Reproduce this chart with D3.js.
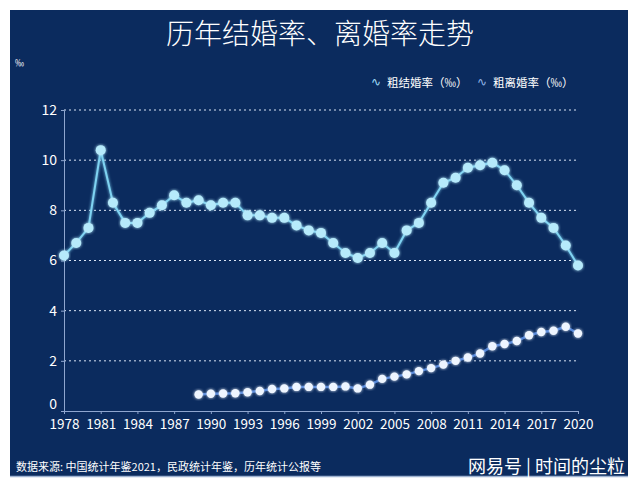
<!DOCTYPE html>
<html>
<head>
    <script src='https://cdn.jsdelivr.net/npm/d3@7'></script>
    <style type='text/css'>
        html, body { margin: 0; padding: 0; background: #ffffff; }
        text { font-family: 'Noto Sans CJK SC', 'Noto Sans', sans-serif; }
    </style>
</head>
<body>
<script>
    // data
    const years = d3.range(1978, 2021);
    const marriage = [6.2, 6.7, 7.3, 10.4, 8.3, 7.5, 7.5, 7.9, 8.2, 8.6,
        8.3, 8.4, 8.2, 8.3, 8.3, 7.8, 7.8, 7.7, 7.7, 7.4,
        7.2, 7.1, 6.7, 6.3, 6.1, 6.3, 6.7, 6.3, 7.2, 7.5,
        8.3, 9.1, 9.3, 9.7, 9.8, 9.9, 9.6, 9.0, 8.3, 7.7,
        7.3, 6.6, 5.8];
    const divorceYears = d3.range(1989, 2021);
    const divorce = [0.66, 0.69, 0.7, 0.71, 0.75, 0.8, 0.88, 0.9, 0.96, 0.96,
        0.96, 0.96, 0.98, 0.9, 1.05, 1.28, 1.37, 1.46, 1.59, 1.71,
        1.85, 2.0, 2.13, 2.29, 2.58, 2.67, 2.79, 3.02, 3.15, 3.2,
        3.36, 3.09];
    const xTicks = d3.range(1978, 2021, 3);
    const yTicks = [0, 2, 4, 6, 8, 10, 12];
    const seriesNames = ['粗结婚率（‰）', '粗离婚率（‰）'];

    const W = 640, H = 488;
    const svg = d3.select('body').append('svg').attr('width', W).attr('height', H);

    // navy panel
    svg.append('rect').attr('x', 10).attr('y', 10).attr('width', 618).attr('height', 467)
        .attr('fill', '#0b2b5e');
    svg.append('line').attr('x1', 10).attr('x2', 628).attr('y1', 476.5).attr('y2', 476.5)
        .attr('stroke', '#9fb3d1').attr('stroke-width', 1.5);

    const x = d3.scaleLinear().domain([1978, 2020]).range([64, 578]);
    const y = d3.scaleLinear().domain([0, 12]).range([411, 110]);

    // title
    svg.append('text').attr('x', 320).attr('y', 44).attr('text-anchor', 'middle')
        .attr('fill', '#ffffff').attr('font-size', 28).attr('font-weight', 300)
        .text('历年结婚率、离婚率走势');
    svg.append('text').attr('x', 15).attr('y', 66).attr('fill', '#ffffff')
        .attr('font-size', 9).text('‰');

    // grid
    svg.append('g').selectAll('line').data(yTicks.filter(d => d > 0)).join('line')
        .attr('x1', x(1978)).attr('x2', x(2020))
        .attr('y1', d => y(d)).attr('y2', d => y(d))
        .attr('stroke', '#dbe6f5').attr('stroke-width', 1)
        .attr('stroke-dasharray', '2,3');

    // y axis
    const yAxis = svg.append('g').attr('transform', `translate(${x(1978)},0)`)
        .call(d3.axisLeft(y).tickValues(yTicks).tickSize(3).tickPadding(4));
    yAxis.select('.domain').attr('stroke', '#8fa6cf');
    yAxis.selectAll('.tick line').attr('stroke', '#8fa6cf');
    yAxis.selectAll('text').attr('fill', '#ffffff').attr('font-size', 14)
        .attr('font-family', 'DejaVu Sans, sans-serif')
        .attr('dy', d => d === 0 ? '-0.2em' : '0.32em');

    // x axis
    const xAxis = svg.append('g').attr('transform', `translate(0,${y(0)})`)
        .call(d3.axisBottom(x).tickValues(xTicks).tickFormat(d3.format('d')).tickSize(3).tickPadding(5));
    xAxis.select('.domain').attr('stroke', '#8fa6cf');
    xAxis.selectAll('.tick line').attr('stroke', '#8fa6cf');
    xAxis.selectAll('text').attr('fill', '#ffffff').attr('font-size', 13.5)
        .attr('font-family', 'DejaVu Sans, sans-serif');

    // glow filter
    const defs = svg.append('defs');
    const f = defs.append('filter').attr('id', 'glow').attr('x', '-20%').attr('y', '-20%')
        .attr('width', '140%').attr('height', '140%');
    f.append('feGaussianBlur').attr('stdDeviation', 1.5).attr('result', 'b');
    const m = f.append('feMerge');
    m.append('feMergeNode').attr('in', 'b');
    m.append('feMergeNode').attr('in', 'SourceGraphic');

    const line = d3.line().x(d => x(d[0])).y(d => y(d[1]));

    // marriage series
    const mData = years.map((yr, i) => [yr, marriage[i]]);
    svg.append('path').datum(mData).attr('d', line).attr('fill', 'none')
        .attr('stroke', '#7fd3f2').attr('stroke-width', 2).attr('filter', 'url(#glow)');
    svg.append('g').selectAll('circle').data(mData).join('circle')
        .attr('cx', d => x(d[0])).attr('cy', d => y(d[1])).attr('r', 5)
        .attr('fill', '#b6eafb').attr('filter', 'url(#glow)');

    // divorce series
    const dData = divorceYears.map((yr, i) => [yr, divorce[i]]);
    svg.append('path').datum(dData).attr('d', line).attr('fill', 'none')
        .attr('stroke', '#4a7fd6').attr('stroke-width', 2.5);
    svg.append('g').selectAll('circle').data(dData).join('circle')
        .attr('cx', d => x(d[0])).attr('cy', d => y(d[1])).attr('r', 4.2)
        .attr('fill', '#eef5ff').attr('filter', 'url(#glow)');

    // legend
    const legend = svg.append('g').selectAll('g').data(seriesNames).join('g')
        .attr('transform', (d, i) => `translate(${[371, 477][i]},82)`);
    legend.append('text').attr('x', 0).attr('y', 4).attr('fill', (d, i) => i ? '#8fb3e6' : '#9fdcf6')
        .attr('font-size', 12).text('∿');
    legend.append('text').attr('x', 16).attr('y', 5).attr('fill', '#ffffff')
        .attr('font-size', 11.5).text(d => d);

    // footer
    svg.append('text').attr('x', 16).attr('y', 471).attr('fill', '#ffffff')
        .attr('font-size', 11).text('数据来源: 中国统计年鉴2021，民政统计年鉴，历年统计公报等');
    svg.append('text').attr('x', 625).attr('y', 473).attr('text-anchor', 'end')
        .attr('fill', '#ffffff').attr('font-size', 18).text('网易号 | 时间的尘粒');
</script>
</body>
</html>
